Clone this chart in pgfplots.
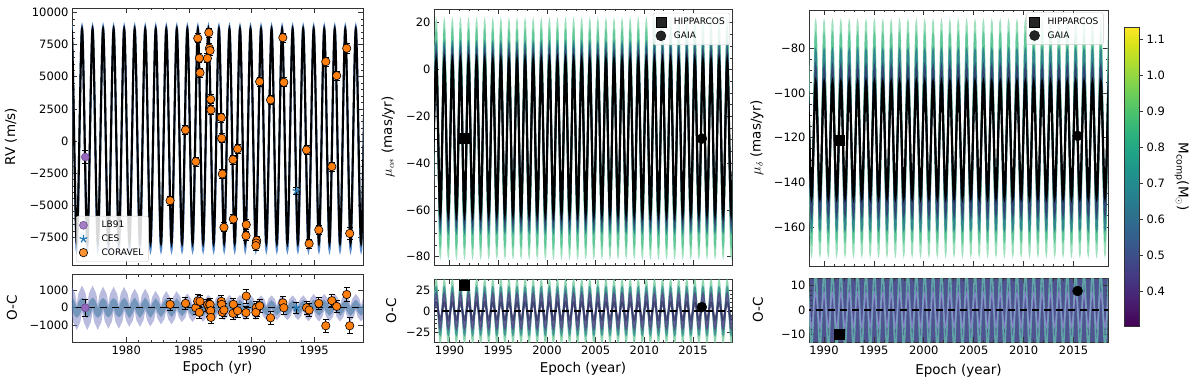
\documentclass[border=0pt]{standalone}
\usepackage{fontspec}
\setmainfont{DejaVu Sans}
\usepackage{pgfplots}
\usepackage{pgfplotstable}
\pgfplotsset{compat=1.18}

\definecolor{cor}{rgb}{1,0.498,0.055}
\definecolor{cpur}{rgb}{0.58,0.404,0.741}
\definecolor{cblu}{rgb}{0.122,0.467,0.706}
\definecolor{cbl}{rgb}{0.35,0.55,0.8}
\definecolor{cA1}{rgb}{0.45,0.47,0.75}
\definecolor{cA2}{rgb}{0.2,0.45,0.6}
\definecolor{cg1}{rgb}{0.62,0.88,0.74}
\definecolor{cg2}{rgb}{0.38,0.78,0.6}
\definecolor{cte}{rgb}{0.2,0.52,0.56}
\definecolor{cnv}{rgb}{0.2,0.27,0.45}
\definecolor{cog}{rgb}{0.45,0.8,0.62}
\definecolor{cot}{rgb}{0.2,0.55,0.55}
\definecolor{cop}{rgb}{0.33,0.27,0.52}
\definecolor{con}{rgb}{0.2,0.22,0.4}
\definecolor{cbg}{rgb}{0.31,0.33,0.57}
\definecolor{ccg}{rgb}{0.4,0.72,0.68}
\definecolor{ccl}{rgb}{0.6,0.56,0.85}

\pgfplotstableread{
t bl k oa ob
1975.210 -8500 -7950 -850 -380
1975.630 8900 8700 850 380
1976.051 -8500 -7950 -850 -380
1976.471 8900 8700 850 380
1976.891 -8500 -7950 -850 -380
1977.312 8900 8700 850 380
1977.732 -8500 -7950 -850 -380
1978.152 8900 8700 800 360
1978.572 -8500 -7950 -800 -360
1978.993 8900 8700 800 360
1979.413 -8500 -7950 -800 -360
1979.833 8900 8700 800 360
1980.254 -8500 -7950 -720 -330
1980.674 8900 8700 720 330
1981.094 -8500 -7950 -720 -330
1981.515 8900 8700 720 330
1981.935 -8500 -7950 -720 -330
1982.355 8900 8700 620 300
1982.775 -8500 -7950 -620 -300
1983.196 8900 8700 620 300
1983.616 -8500 -7950 -620 -300
1984.036 8900 8700 620 300
1984.457 -8500 -7950 -520 -260
1984.877 8900 8700 520 260
1985.297 -8500 -7950 -520 -260
1985.718 8900 8700 520 260
1986.138 -8500 -7950 -520 -260
1986.558 8900 8700 460 240
1986.978 -8500 -7950 -460 -240
1987.399 8900 8700 460 240
1987.819 -8500 -7950 -460 -240
1988.239 8900 8700 460 240
1988.660 -8500 -7950 -460 -240
1989.080 8900 8700 460 240
1989.500 -8500 -7950 -460 -240
1989.921 8900 8700 460 240
1990.341 -8500 -7950 -440 -230
1990.761 8900 8700 440 230
1991.181 -8500 -7950 -440 -230
1991.602 8900 8700 440 230
1992.022 -8500 -7950 -440 -230
1992.442 8900 8700 440 230
1992.863 -8500 -7950 -440 -230
1993.283 8900 8700 440 230
1993.703 -8500 -7950 -440 -230
1994.124 8900 8700 440 230
1994.544 -8500 -7950 -500 -250
1994.964 8900 8700 500 250
1995.384 -8500 -7950 -500 -250
1995.805 8900 8700 500 250
1996.225 -8500 -7950 -500 -250
1996.645 8900 8700 500 250
1997.066 -8500 -7950 -500 -250
1997.486 8900 8700 500 250
1997.906 -8500 -7950 -500 -250
1998.327 8900 8700 500 250
1998.747 -8500 -7950 -500 -250
1999.167 8900 8700 500 250
1999.587 -8500 -7950 -500 -250
}\Atab

\pgfplotstableread{
t rv oc e
1983.50 -4650 190 350
1984.73 860 245 350
1985.55 -1610 0 350
1985.71 8000 380 350
1985.84 6450 -265 350
1985.89 5320 360 350
1986.48 6440 150 350
1986.59 8440 60 350
1986.64 7220 -130 350
1986.69 7040 190 350
1986.74 3250 -170 350
1986.76 2420 -550 350
1987.59 1820 360 350
1987.62 210 190 350
1987.67 -2570 -260 350
1987.80 -6730 -130 350
1988.55 -6080 190 350
1988.52 -1450 -320 350
1988.89 -620 -170 350
1989.58 -6520 660 400
1989.56 -7380 -280 350
1990.41 -7750 -130 350
1990.38 -7950 0 350
1990.35 -8150 -260 350
1990.65 4620 110 350
1991.52 3200 -570 350
1992.50 8050 280 350
1992.58 4570 0 350
1994.39 -700 0 350
1994.60 -8000 -130 350
1995.37 -6930 245 350
1995.93 6180 -1020 350
1996.41 -2000 400 350
1996.80 5090 75 350
1997.60 7220 750 380
1997.84 -7200 -1020 450
}\Ctab

\pgfplotstableread{
t g1 g2 te b k og ot op on
1988.210 -79.3 -75 -69 -65 -61.2 -36 -28 -20 -10
1988.625 20.4 16 11 7 3.3 36 28 20 10
1989.040 -79.3 -75 -69 -65 -61.2 -36 -28 -20 -10
1989.455 20.4 16 11 7 3.3 36 28 20 10
1989.870 -79.3 -75 -69 -65 -61.2 -36 -28 -20 -10
1990.285 20.4 16 11 7 3.3 36 28 20 10
1990.700 -79.3 -75 -69 -65 -61.2 -36 -28 -20 -10
1991.115 20.4 16 11 7 3.3 36 28 20 10
1991.530 -79.3 -75 -69 -65 -61.2 -36 -28 -20 -10
1991.945 20.4 16 11 7 3.3 36 28 20 10
1992.360 -79.3 -75 -69 -65 -61.2 -36 -28 -20 -10
1992.775 20.4 16 11 7 3.3 36 28 20 10
1993.190 -79.3 -75 -69 -65 -61.2 -36 -28 -20 -10
1993.605 20.4 16 11 7 3.3 36 28 20 10
1994.020 -79.3 -75 -69 -65 -61.2 -36 -28 -20 -10
1994.435 20.4 16 11 7 3.3 36 28 20 10
1994.850 -79.3 -75 -69 -65 -61.2 -36 -28 -20 -10
1995.265 20.4 16 11 7 3.3 36 28 20 10
1995.680 -79.3 -75 -69 -65 -61.2 -36 -28 -20 -10
1996.095 20.4 16 11 7 3.3 36 28 20 10
1996.510 -79.3 -75 -69 -65 -61.2 -36 -28 -20 -10
1996.925 20.4 16 11 7 3.3 36 28 20 10
1997.340 -79.3 -75 -69 -65 -61.2 -36 -28 -20 -10
1997.755 20.4 16 11 7 3.3 36 28 20 10
1998.170 -79.3 -75 -69 -65 -61.2 -36 -28 -20 -10
1998.585 20.4 16 11 7 3.3 36 28 20 10
1999.000 -79.3 -75 -69 -65 -61.2 -36 -28 -20 -10
1999.415 20.4 16 11 7 3.3 36 28 20 10
1999.830 -79.3 -75 -69 -65 -61.2 -36 -28 -20 -10
2000.245 20.4 16 11 7 3.3 36 28 20 10
2000.660 -79.3 -75 -69 -65 -61.2 -36 -28 -20 -10
2001.075 20.4 16 11 7 3.3 36 28 20 10
2001.490 -79.3 -75 -69 -65 -61.2 -36 -28 -20 -10
2001.905 20.4 16 11 7 3.3 36 28 20 10
2002.320 -79.3 -75 -69 -65 -61.2 -36 -28 -20 -10
2002.735 20.4 16 11 7 3.3 36 28 20 10
2003.150 -79.3 -75 -69 -65 -61.2 -36 -28 -20 -10
2003.565 20.4 16 11 7 3.3 36 28 20 10
2003.980 -79.3 -75 -69 -65 -61.2 -36 -28 -20 -10
2004.395 20.4 16 11 7 3.3 36 28 20 10
2004.810 -79.3 -75 -69 -65 -61.2 -36 -28 -20 -10
2005.225 20.4 16 11 7 3.3 36 28 20 10
2005.640 -79.3 -75 -69 -65 -61.2 -36 -28 -20 -10
2006.055 20.4 16 11 7 3.3 36 28 20 10
2006.470 -79.3 -75 -69 -65 -61.2 -36 -28 -20 -10
2006.885 20.4 16 11 7 3.3 36 28 20 10
2007.300 -79.3 -75 -69 -65 -61.2 -36 -28 -20 -10
2007.715 20.4 16 11 7 3.3 36 28 20 10
2008.130 -79.3 -75 -69 -65 -61.2 -36 -28 -20 -10
2008.545 20.4 16 11 7 3.3 36 28 20 10
2008.960 -79.3 -75 -69 -65 -61.2 -36 -28 -20 -10
2009.375 20.4 16 11 7 3.3 36 28 20 10
2009.790 -79.3 -75 -69 -65 -61.2 -36 -28 -20 -10
2010.205 20.4 16 11 7 3.3 36 28 20 10
2010.620 -79.3 -75 -69 -65 -61.2 -36 -28 -20 -10
2011.035 20.4 16 11 7 3.3 36 28 20 10
2011.450 -79.3 -75 -69 -65 -61.2 -36 -28 -20 -10
2011.865 20.4 16 11 7 3.3 36 28 20 10
2012.280 -79.3 -75 -69 -65 -61.2 -36 -28 -20 -10
2012.695 20.4 16 11 7 3.3 36 28 20 10
2013.110 -79.3 -75 -69 -65 -61.2 -36 -28 -20 -10
2013.525 20.4 16 11 7 3.3 36 28 20 10
2013.940 -79.3 -75 -69 -65 -61.2 -36 -28 -20 -10
2014.355 20.4 16 11 7 3.3 36 28 20 10
2014.770 -79.3 -75 -69 -65 -61.2 -36 -28 -20 -10
2015.185 20.4 16 11 7 3.3 36 28 20 10
2015.600 -79.3 -75 -69 -65 -61.2 -36 -28 -20 -10
2016.015 20.4 16 11 7 3.3 36 28 20 10
2016.430 -79.3 -75 -69 -65 -61.2 -36 -28 -20 -10
2016.845 20.4 16 11 7 3.3 36 28 20 10
2017.260 -79.3 -75 -69 -65 -61.2 -36 -28 -20 -10
2017.675 20.4 16 11 7 3.3 36 28 20 10
2018.090 -79.3 -75 -69 -65 -61.2 -36 -28 -20 -10
2018.505 20.4 16 11 7 3.3 36 28 20 10
2018.920 -79.3 -75 -69 -65 -61.2 -36 -28 -20 -10
2019.335 20.4 16 11 7 3.3 36 28 20 10
}\Btab

\pgfplotstableread{
t g1 g2 te b k og op
1987.91 -172 -166 -161 -154 -146.5 -16 -7
1988.33 -68.5 -74 -81 -89 -95.5 16 7
1988.75 -172 -166 -161 -154 -146.5 -16 -7
1989.17 -68.5 -74 -81 -89 -95.5 16 7
1989.59 -172 -166 -161 -154 -146.5 -16 -7
1990.01 -68.5 -74 -81 -89 -95.5 16 7
1990.43 -172 -166 -161 -154 -146.5 -16 -7
1990.85 -68.5 -74 -81 -89 -95.5 16 7
1991.27 -172 -166 -161 -154 -146.5 -16 -7
1991.69 -68.5 -74 -81 -89 -95.5 16 7
1992.11 -172 -166 -161 -154 -146.5 -16 -7
1992.53 -68.5 -74 -81 -89 -95.5 16 7
1992.95 -172 -166 -161 -154 -146.5 -16 -7
1993.37 -68.5 -74 -81 -89 -95.5 16 7
1993.79 -172 -166 -161 -154 -146.5 -16 -7
1994.21 -68.5 -74 -81 -89 -95.5 16 7
1994.63 -172 -166 -161 -154 -146.5 -16 -7
1995.05 -68.5 -74 -81 -89 -95.5 16 7
1995.47 -172 -166 -161 -154 -146.5 -16 -7
1995.89 -68.5 -74 -81 -89 -95.5 16 7
1996.31 -172 -166 -161 -154 -146.5 -16 -7
1996.73 -68.5 -74 -81 -89 -95.5 16 7
1997.15 -172 -166 -161 -154 -146.5 -16 -7
1997.57 -68.5 -74 -81 -89 -95.5 16 7
1997.99 -172 -166 -161 -154 -146.5 -16 -7
1998.41 -68.5 -74 -81 -89 -95.5 16 7
1998.83 -172 -166 -161 -154 -146.5 -16 -7
1999.25 -68.5 -74 -81 -89 -95.5 16 7
1999.67 -172 -166 -161 -154 -146.5 -16 -7
2000.09 -68.5 -74 -81 -89 -95.5 16 7
2000.51 -172 -166 -161 -154 -146.5 -16 -7
2000.93 -68.5 -74 -81 -89 -95.5 16 7
2001.35 -172 -166 -161 -154 -146.5 -16 -7
2001.77 -68.5 -74 -81 -89 -95.5 16 7
2002.19 -172 -166 -161 -154 -146.5 -16 -7
2002.61 -68.5 -74 -81 -89 -95.5 16 7
2003.03 -172 -166 -161 -154 -146.5 -16 -7
2003.45 -68.5 -74 -81 -89 -95.5 16 7
2003.87 -172 -166 -161 -154 -146.5 -16 -7
2004.29 -68.5 -74 -81 -89 -95.5 16 7
2004.71 -172 -166 -161 -154 -146.5 -16 -7
2005.13 -68.5 -74 -81 -89 -95.5 16 7
2005.55 -172 -166 -161 -154 -146.5 -16 -7
2005.97 -68.5 -74 -81 -89 -95.5 16 7
2006.39 -172 -166 -161 -154 -146.5 -16 -7
2006.81 -68.5 -74 -81 -89 -95.5 16 7
2007.23 -172 -166 -161 -154 -146.5 -16 -7
2007.65 -68.5 -74 -81 -89 -95.5 16 7
2008.07 -172 -166 -161 -154 -146.5 -16 -7
2008.49 -68.5 -74 -81 -89 -95.5 16 7
2008.91 -172 -166 -161 -154 -146.5 -16 -7
2009.33 -68.5 -74 -81 -89 -95.5 16 7
2009.75 -172 -166 -161 -154 -146.5 -16 -7
2010.17 -68.5 -74 -81 -89 -95.5 16 7
2010.59 -172 -166 -161 -154 -146.5 -16 -7
2011.01 -68.5 -74 -81 -89 -95.5 16 7
2011.43 -172 -166 -161 -154 -146.5 -16 -7
2011.85 -68.5 -74 -81 -89 -95.5 16 7
2012.27 -172 -166 -161 -154 -146.5 -16 -7
2012.69 -68.5 -74 -81 -89 -95.5 16 7
2013.11 -172 -166 -161 -154 -146.5 -16 -7
2013.53 -68.5 -74 -81 -89 -95.5 16 7
2013.95 -172 -166 -161 -154 -146.5 -16 -7
2014.37 -68.5 -74 -81 -89 -95.5 16 7
2014.79 -172 -166 -161 -154 -146.5 -16 -7
2015.21 -68.5 -74 -81 -89 -95.5 16 7
2015.63 -172 -166 -161 -154 -146.5 -16 -7
2016.05 -68.5 -74 -81 -89 -95.5 16 7
2016.47 -172 -166 -161 -154 -146.5 -16 -7
2016.89 -68.5 -74 -81 -89 -95.5 16 7
2017.31 -172 -166 -161 -154 -146.5 -16 -7
2017.73 -68.5 -74 -81 -89 -95.5 16 7
2018.15 -172 -166 -161 -154 -146.5 -16 -7
2018.57 -68.5 -74 -81 -89 -95.5 16 7
2018.99 -172 -166 -161 -154 -146.5 -16 -7
}\Dtab

\pgfplotsset{
  myax/.style={
    scale only axis, anchor=south west,
    scaled ticks=false,
    axis line style={black!80, line width=0.8pt},
    every tick/.style={black!80, line width=0.7pt},
    major tick length=5pt, minor tick length=2.5pt,
    tick align=inside, tick pos=both,
    xticklabel pos=lower, yticklabel pos=left,
    tick label style={font=\fontsize{11.5}{13}\selectfont},
    label style={font=\fontsize{13.5}{15}\selectfont},
  },
  errstyle/.style={error bars/.cd, y dir=both, y explicit,
    error bar style={black, line width=0.8pt},
    error mark options={rotate=90, black, mark size=3pt, line width=0.8pt}},
  legA/.style={legend cell align=left, legend style={font=\fontsize{9}{10}\selectfont, draw=black!20, rounded corners=2pt, fill=white, fill opacity=0.85, draw opacity=1, text opacity=1, inner sep=3pt, row sep=1.5pt, /tikz/every odd column/.append style={column sep=6pt}}},
}

\begin{document}
\begin{tikzpicture}

% ---------- left top: RV ----------
\begin{axis}[myax, legA, at={(72pt,116pt)}, width=291pt, height=257pt,
  xmin=1975.67, xmax=1998.9, ymin=-9660, ymax=10360,
  xtick={1980,1985,1990,1995}, xticklabels={}, minor x tick num=4,
  ytick={-7500,-5000,-2500,0,2500,5000,7500,10000},
  yticklabels={−7500,−5000,−2500,0,2500,5000,7500,10000},
  minor y tick num=4,
  ylabel={RV (m/s)}, ylabel style={at={(axis description cs:-0.21,0.5)}, anchor=center},
  legend style={at={(0.014,0.012)}, anchor=south west, /tikz/every odd column/.append style={column sep=12pt}}]
\addplot[forget plot, smooth, color=cbl, line width=2.1pt] table[x=t,y=bl]{\Atab};
\addplot[forget plot, smooth, black, line width=2.1pt] table[x=t,y=k]{\Atab};
\addplot[only marks, color=cpur, mark=*, mark size=4pt, mark options={fill=cpur, draw=cpur!70!black, line width=0.5pt}, errstyle] coordinates {(1976.73,-1250) +- (0,480)};
\addlegendentry{LB91}
\addplot[only marks, color=cblu, mark=star, mark size=4pt, mark options={line width=1.2pt}, errstyle] coordinates {(1993.59,-3880) +- (0,300)};
\addlegendentry{CES}
\addplot[only marks, color=cor, mark=*, mark size=4.2pt, mark options={fill=cor, draw=black, line width=0.6pt}, errstyle] table[x=t,y=rv,y error=e]{\Ctab};
\addlegendentry{CORAVEL}
\end{axis}

% ---------- left bottom: O-C ----------
\begin{axis}[myax, at={(72pt,39pt)}, width=291pt, height=68pt,
  xmin=1975.67, xmax=1998.9, ymin=-1940, ymax=1910,
  xtick={1980,1985,1990,1995}, xticklabels={1980,1985,1990,1995}, minor x tick num=4,
  ytick={-1000,0,1000}, yticklabels={−1000,0,1000},
  ylabel={O-C}, ylabel style={at={(axis description cs:-0.206,0.5)}, anchor=center},
  xlabel={Epoch (yr)}, xlabel style={at={(axis description cs:0.5,-0.38)}, anchor=center}]
\addplot[smooth, color=cA1, opacity=0.5, line width=6pt] table[x=t,y=oa]{\Atab};
\addplot[smooth, color=cA2, opacity=0.5, line width=5pt] table[x=t,y=ob]{\Atab};
\addplot[black, line width=1.4pt, dash pattern=on 7pt off 5pt] coordinates {(1975,0) (2000,0)};
\addplot[only marks, color=cpur, mark=*, mark size=4pt, mark options={fill=cpur, draw=cpur!70!black, line width=0.5pt}, errstyle] coordinates {(1976.73,0) +- (0,500)};
\addplot[only marks, color=cblu, mark=star, mark size=4pt, mark options={line width=1.2pt}, errstyle] coordinates {(1993.59,0) +- (0,300)};
\addplot[only marks, color=cor, mark=*, mark size=4.2pt, mark options={fill=cor, draw=black, line width=0.6pt}, errstyle] table[x=t,y=oc,y error=e]{\Ctab};
\end{axis}

% ---------- middle top ----------
\begin{axis}[myax, legA, at={(434pt,116pt)}, width=298pt, height=256pt,
  xmin=1988.4, xmax=2019.0, ymin=-83.5, ymax=25.9,
  xtick={1990,1995,2000,2005,2010,2015}, xticklabels={}, minor x tick num=4,
  ytick={-80,-60,-40,-20,0,20}, yticklabels={−80,−60,−40,−20,0,20}, minor y tick num=3,
  ylabel={$\mu_{\alpha*}$ (mas/yr)}, ylabel style={at={(axis description cs:-0.154,0.5)}, anchor=center},
  legend style={at={(0.993,0.985)}, anchor=north east}]
\addplot[forget plot, smooth, color=cg1, line width=1.7pt] table[x=t,y=g1]{\Btab};
\addplot[forget plot, smooth, color=cg2, line width=1.7pt] table[x=t,y=g2]{\Btab};
\addplot[forget plot, smooth, color=cte, line width=1.7pt] table[x=t,y=te]{\Btab};
\addplot[forget plot, smooth, color=cnv, line width=1.9pt] table[x=t,y=b]{\Btab};
\addplot[forget plot, smooth, black, line width=2.2pt] table[x=t,y=k]{\Btab};
\addplot[only marks, black, mark=square*, mark size=5pt] coordinates {(1991.45,-29.5)};
\addlegendentry{HIPPARCOS}
\addplot[only marks, black, mark=*, mark size=5pt] coordinates {(2015.9,-29.5)};
\addlegendentry{GAIA}
\end{axis}

% ---------- middle bottom ----------
\begin{axis}[myax, at={(434pt,39pt)}, width=298pt, height=63pt,
  xmin=1988.4, xmax=2019.0, ymin=-36.8, ymax=38.3,
  xtick={1990,1995,2000,2005,2010,2015}, xticklabels={1990,1995,2000,2005,2010,2015}, minor x tick num=4,
  ytick={-25,0,25}, yticklabels={−25,0,25}, minor y tick num=4,
  ylabel={O-C}, ylabel style={at={(axis description cs:-0.144,0.5)}, anchor=center},
  xlabel={Epoch (year)}, xlabel style={at={(axis description cs:0.5,-0.43)}, anchor=center}]
\addplot[smooth, color=cog, opacity=0.8, line width=1.7pt] table[x=t,y=og]{\Btab};
\addplot[smooth, color=cot, opacity=0.8, line width=1.7pt] table[x=t,y=ot]{\Btab};
\addplot[smooth, color=cop, opacity=0.8, line width=2pt] table[x=t,y=op]{\Btab};
\addplot[smooth, color=con, opacity=0.8, line width=2pt] table[x=t,y=on]{\Btab};
\addplot[black, line width=1.4pt, dash pattern=on 7pt off 5pt] coordinates {(1988,0) (2020,0)};
\addplot[only marks, black, mark=square*, mark size=5pt] coordinates {(1991.45,31)};
\addplot[only marks, black, mark=*, mark size=5pt] coordinates {(2015.9,4.7)};
\end{axis}

% ---------- right top ----------
\begin{axis}[myax, legA, at={(809pt,115pt)}, width=299pt, height=256pt,
  xmin=1988.5, xmax=2018.45, ymin=-177.5, ymax=-62.8,
  xtick={1990,1995,2000,2005,2010,2015}, xticklabels={}, minor x tick num=4,
  ytick={-160,-140,-120,-100,-80}, yticklabels={−160,−140,−120,−100,−80}, minor y tick num=3,
  ylabel={$\mu_{\delta}$ (mas/yr)}, ylabel style={at={(axis description cs:-0.174,0.5)}, anchor=center},
  legend style={at={(0.985,0.99)}, anchor=north east}]
\addplot[forget plot, smooth, color=cg1, line width=1.7pt] table[x=t,y=g1]{\Dtab};
\addplot[forget plot, smooth, color=cg2, line width=1.7pt] table[x=t,y=g2]{\Dtab};
\addplot[forget plot, smooth, color=cte, line width=1.7pt] table[x=t,y=te]{\Dtab};
\addplot[forget plot, smooth, color=cnv, line width=1.9pt] table[x=t,y=b]{\Dtab};
\addplot[forget plot, smooth, black, line width=2.2pt] table[x=t,y=k]{\Dtab};
\addplot[only marks, black, mark=square*, mark size=5pt] coordinates {(1991.48,-121.1)};
\addlegendentry{HIPPARCOS}
\addplot[only marks, black, mark=*, mark size=5pt] coordinates {(2015.4,-119.2)};
\addlegendentry{GAIA}
\end{axis}

% ---------- right bottom ----------
\begin{axis}[myax, at={(809pt,39pt)}, width=299pt, height=64pt,
  xmin=1988.5, xmax=2018.45, ymin=-13, ymax=13.1,
  axis background/.style={fill=cbg},
  xtick={1990,1995,2000,2005,2010,2015}, xticklabels={1990,1995,2000,2005,2010,2015}, minor x tick num=4,
  ytick={-10,0,10}, yticklabels={−10,0,10}, minor y tick num=4,
  ylabel={O-C}, ylabel style={at={(axis description cs:-0.171,0.5)}, anchor=center},
  xlabel={Epoch (year)}, xlabel style={at={(axis description cs:0.5,-0.45)}, anchor=center}]
\addplot[smooth, color=ccg, opacity=0.8, line width=1.6pt] table[x=t,y=og]{\Dtab};
\addplot[smooth, color=ccl, opacity=0.7, line width=1.3pt] table[x=t,y=op]{\Dtab};
\addplot[black, line width=1.4pt, dash pattern=on 7pt off 5pt] coordinates {(1988,0) (2020,0)};
\addplot[only marks, black, mark=square*, mark size=5pt] coordinates {(1991.48,-10)};
\addplot[only marks, black, mark=*, mark size=5pt] coordinates {(2015.4,7.8)};
\end{axis}

% ---------- colorbar ----------
\begin{axis}[at={(1124pt,55pt)}, anchor=south west, scale only axis, width=15pt, height=299pt,
  view={0}{90}, colormap/viridis,
  xmin=0, xmax=1, ymin=0.305, ymax=1.135,
  axis line style={black!80, line width=0.8pt},
  every tick/.style={black!80, line width=0.7pt},
  xtick=\empty, ytick={0.4,0.5,0.6,0.7,0.8,0.9,1.0,1.1},
  yticklabels={0.4,0.5,0.6,0.7,0.8,0.9,1.0,1.1},
  ytick pos=right, yticklabel pos=right, tick align=outside, major tick length=4pt,
  tick label style={font=\fontsize{11.5}{13}\selectfont},
  ylabel={M\textsubscript{comp}(M\textsubscript{$\odot$})},
  ylabel style={font=\fontsize{13.5}{15}\selectfont, at={(axis description cs:3.85,0.5)}, anchor=center, rotate=180}]
\addplot3[surf, shader=interp, point meta=y, mesh/rows=10] coordinates {
(0,0.305,0) (1,0.305,0)
(0,0.4,0) (1,0.4,0)
(0,0.5,0) (1,0.5,0)
(0,0.6,0) (1,0.6,0)
(0,0.7,0) (1,0.7,0)
(0,0.8,0) (1,0.8,0)
(0,0.9,0) (1,0.9,0)
(0,1.0,0) (1,1.0,0)
(0,1.1,0) (1,1.1,0)
(0,1.135,0) (1,1.135,0)
};
\end{axis}

\pgfresetboundingbox
\path[use as bounding box] (0,0) rectangle (1200pt,381pt);
\end{tikzpicture}
\end{document}
